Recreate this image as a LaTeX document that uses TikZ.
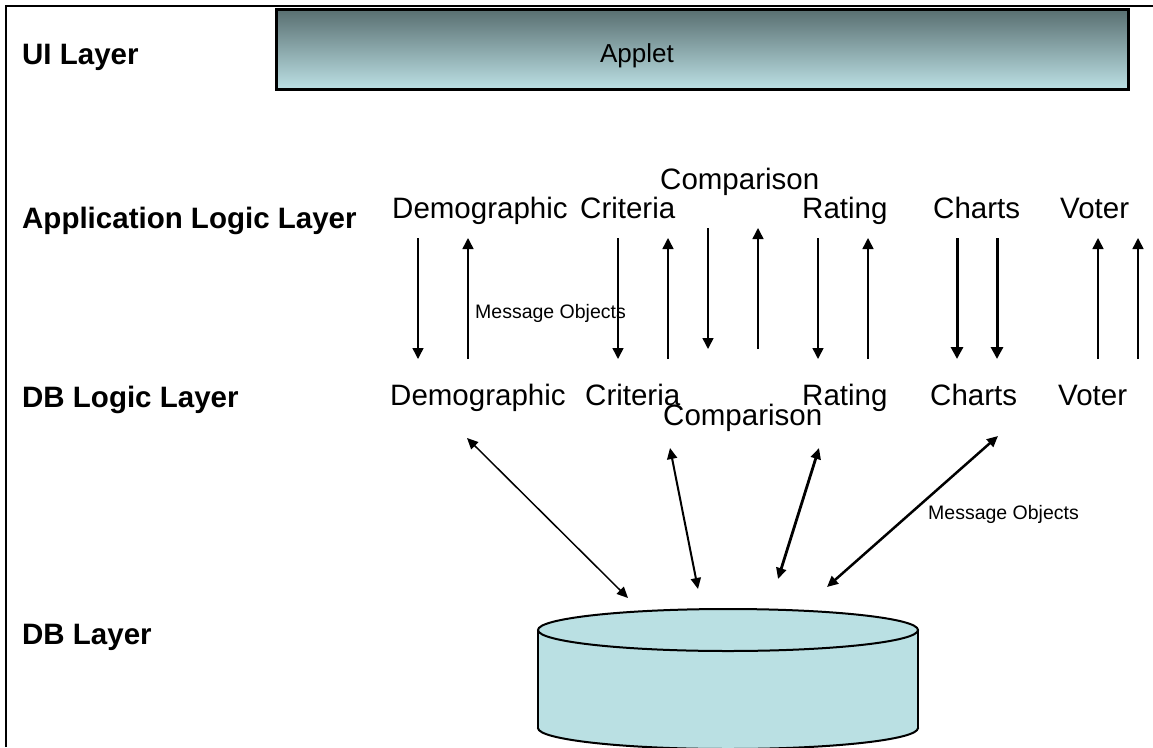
\documentclass[tikz,border=0pt]{standalone}
\usepackage{fontspec}
\setmainfont{Liberation Sans}
\usetikzlibrary{arrows.meta}
\definecolor{dbfill}{RGB}{186,224,227}
\definecolor{applettop}{RGB}{88,110,112}
\definecolor{appletbot}{RGB}{188,224,228}

\begin{document}
\begin{tikzpicture}[x=1pt,y=-1pt,
  layer/.style={anchor=base west, inner sep=0pt, font=\fontsize{29.5}{34}\selectfont\bfseries},
  comp/.style={anchor=base west, inner sep=0pt, font=\fontsize{29.5}{34}\selectfont},
  msg/.style={anchor=base west, inner sep=0pt, font=\fontsize{19.5}{23}\selectfont},
  flow/.style={line width=1.5pt, -{Triangle[length=11pt,width=11pt]}},
  heavyflow/.style={line width=3pt, -{Triangle[length=12pt,width=12pt]}},
  link/.style={{Triangle[length=11pt,width=10pt]}-{Triangle[length=11pt,width=10pt]}},
]
\useasboundingbox (0,0) rectangle (1153,747);

% outer frame (left and top edges)
\draw[line width=2pt] (5.5,747) -- (5.5,5.5) -- (1153,5.5);

% UI layer: applet bar
\shade[top color=applettop, bottom color=appletbot] (276,9) rectangle (1128,89);
\draw[line width=3pt] (276,9) rectangle (1128,89);
\node[anchor=base, inner sep=0pt, font=\fontsize{26}{30}\selectfont] (applet) at (637,62) {Applet};

% layer captions
\node[layer] (uiL)  at (22,64)  {UI Layer};
\node[layer] (appL) at (22,228) {Application Logic Layer};
\node[layer] (dblL) at (22,407) {DB Logic Layer};
\node[layer] (dbL)  at (22,644) {DB Layer};

% application logic components
\node[comp] (aDemo)  at (392,218)  {Demographic};
\node[comp] (aCrit)  at (580,218)  {Criteria};
\node[comp] (aComp)  at (660,189)  {Comparison};
\node[comp] (aRate)  at (802,218)  {Rating};
\node[comp] (aChart) at (933,218)  {Charts};
\node[comp] (aVoter) at (1060,218) {Voter};

% DB logic components
\node[comp] (bDemo)  at (390,405)  {Demographic};
\node[comp] (bCrit)  at (585,405)  {Criteria};
\node[comp] (bComp)  at (663,425)  {Comparison};
\node[comp] (bRate)  at (802,405)  {Rating};
\node[comp] (bChart) at (930,405)  {Charts};
\node[comp] (bVoter) at (1058,405) {Voter};

\node[msg] (msgA) at (475,318) {Message Objects};
\node[msg] (msgB) at (928,519) {Message Objects};

% arrow end points between the two logic layers
\coordinate (p1t) at (418,238);  \coordinate (p1b) at (418,359);
\coordinate (p2t) at (468,238);  \coordinate (p2b) at (468,359);
\coordinate (p3t) at (618,238);  \coordinate (p3b) at (618,359);
\coordinate (p4t) at (668,238);  \coordinate (p4b) at (668,359);
\coordinate (p5t) at (708,228);  \coordinate (p5b) at (708,349);
\coordinate (p6t) at (758,228);  \coordinate (p6b) at (758,349);
\coordinate (p7t) at (818,238);  \coordinate (p7b) at (818,359);
\coordinate (p8t) at (868,238);  \coordinate (p8b) at (868,359);
\coordinate (p9t) at (957,238);  \coordinate (p9b) at (957,359);
\coordinate (p10t) at (997,238); \coordinate (p10b) at (997,359);
\coordinate (p11t) at (1098,238); \coordinate (p11b) at (1098,359);
\coordinate (p12t) at (1138,238); \coordinate (p12b) at (1138,359);

\draw[flow] (p1t) -- (p1b);
\draw[flow] (p2b) -- (p2t);
\draw[flow] (p3t) -- (p3b);
\draw[flow] (p4b) -- (p4t);
\draw[flow] (p5t) -- (p5b);
\draw[flow] (p6b) -- (p6t);
\draw[flow] (p7t) -- (p7b);
\draw[flow] (p8b) -- (p8t);
\draw[heavyflow] (p9t) -- (p9b);
\draw[heavyflow] (p10t) -- (p10b);
\draw[flow] (p11b) -- (p11t);
\draw[flow] (p12b) -- (p12t);

% DB layer: database cylinder
\filldraw[fill=dbfill, line width=2pt] (728,728) ellipse [x radius=190, y radius=21];
\fill[dbfill] (538,630) rectangle (918,728);
\draw[line width=2pt] (538,630) -- (538,728) (918,630) -- (918,728);
\filldraw[fill=dbfill, line width=2pt] (728,630) ellipse [x radius=190, y radius=21];

% links between DB logic components and the database
\coordinate (q1a) at (467,438); \coordinate (q1b) at (628,598);
\coordinate (q2a) at (670,448); \coordinate (q2b) at (698,589);
\coordinate (q3a) at (819,448); \coordinate (q3b) at (778,579);
\coordinate (q4a) at (998,436); \coordinate (q4b) at (827,587);
\draw[link, line width=1.5pt] (q1a) -- (q1b);
\draw[link, line width=2pt]   (q2a) -- (q2b);
\draw[link, line width=2.8pt] (q3a) -- (q3b);
\draw[link, line width=2.5pt] (q4a) -- (q4b);
\end{tikzpicture}
\end{document}
